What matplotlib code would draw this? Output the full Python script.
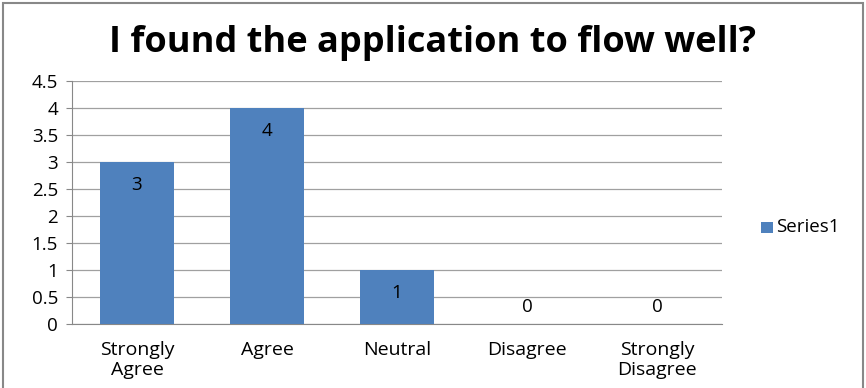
import matplotlib
matplotlib.use("Agg")
import matplotlib.pyplot as plt
from matplotlib.patches import Rectangle

categories = ["Strongly\nAgree", "Agree", "Neutral", "Disagree", "Strongly\nDisagree"]
values = [3, 4, 1, 0, 0]
yticks = [0, 0.5, 1, 1.5, 2, 2.5, 3, 3.5, 4, 4.5]
ytick_labels = ["0", "0.5", "1", "1.5", "2", "2.5", "3", "3.5", "4", "4.5"]
title = "I found the application to flow well?"
series_name = "Series1"

bar_color = "#4F81BD"
font = ["Open Sans", "DejaVu Sans"]
fs = 13.5
W, H = 866, 388

fig = plt.figure(figsize=(8.66, 3.88), dpi=100)
fig.patch.set_facecolor("white")
fig.add_artist(Rectangle((0.003, -0.01), 0.993, 1.003, transform=fig.transFigure,
                         fill=False, edgecolor="#888888", linewidth=1.5))

ax = fig.add_axes([0.0831, 0.1649, 0.7506, 0.6263])
x = list(range(len(categories)))
ax.bar(x, values, width=0.57, color=bar_color, zorder=3)
ax.set_xlim(-0.5, len(categories) - 0.5)
ax.set_ylim(0, 4.5)
ax.set_yticks(yticks)
ax.set_yticklabels(ytick_labels, fontsize=fs, family=font)
ax.set_xticks(x)
ax.set_xticklabels(categories, fontsize=14, family=font, linespacing=1.2)
ax.tick_params(axis="x", length=0, pad=12)
ax.tick_params(axis="y", length=4, pad=6, color="#888888")
ax.yaxis.grid(True, color="#A0A0A0", linewidth=0.9, zorder=0)
for s in ["top", "right"]:
    ax.spines[s].set_visible(False)
ax.spines["left"].set_color("#888888")
ax.spines["bottom"].set_color("#888888")

for xi, v in zip(x, values):
    if v > 0:
        ax.text(xi, v - 0.43, str(v), ha="center", va="center", fontsize=fs, family=font)
    else:
        ax.text(xi, 0.32, str(v), ha="center", va="center", fontsize=fs, family=font)

fig.text(0.499, 0.888, title, ha="center", va="center", fontsize=26,
         fontweight="bold", family=font)

# legend (manual placement)
fig.add_artist(Rectangle((761 / W, 1 - 233 / H), 12 / W, 11 / H,
                         transform=fig.transFigure, facecolor=bar_color, edgecolor="none"))
fig.text(776 / W, 1 - 227 / H, series_name, ha="left", va="center",
         fontsize=fs, family=font)

fig.savefig("out.png", dpi=100)
